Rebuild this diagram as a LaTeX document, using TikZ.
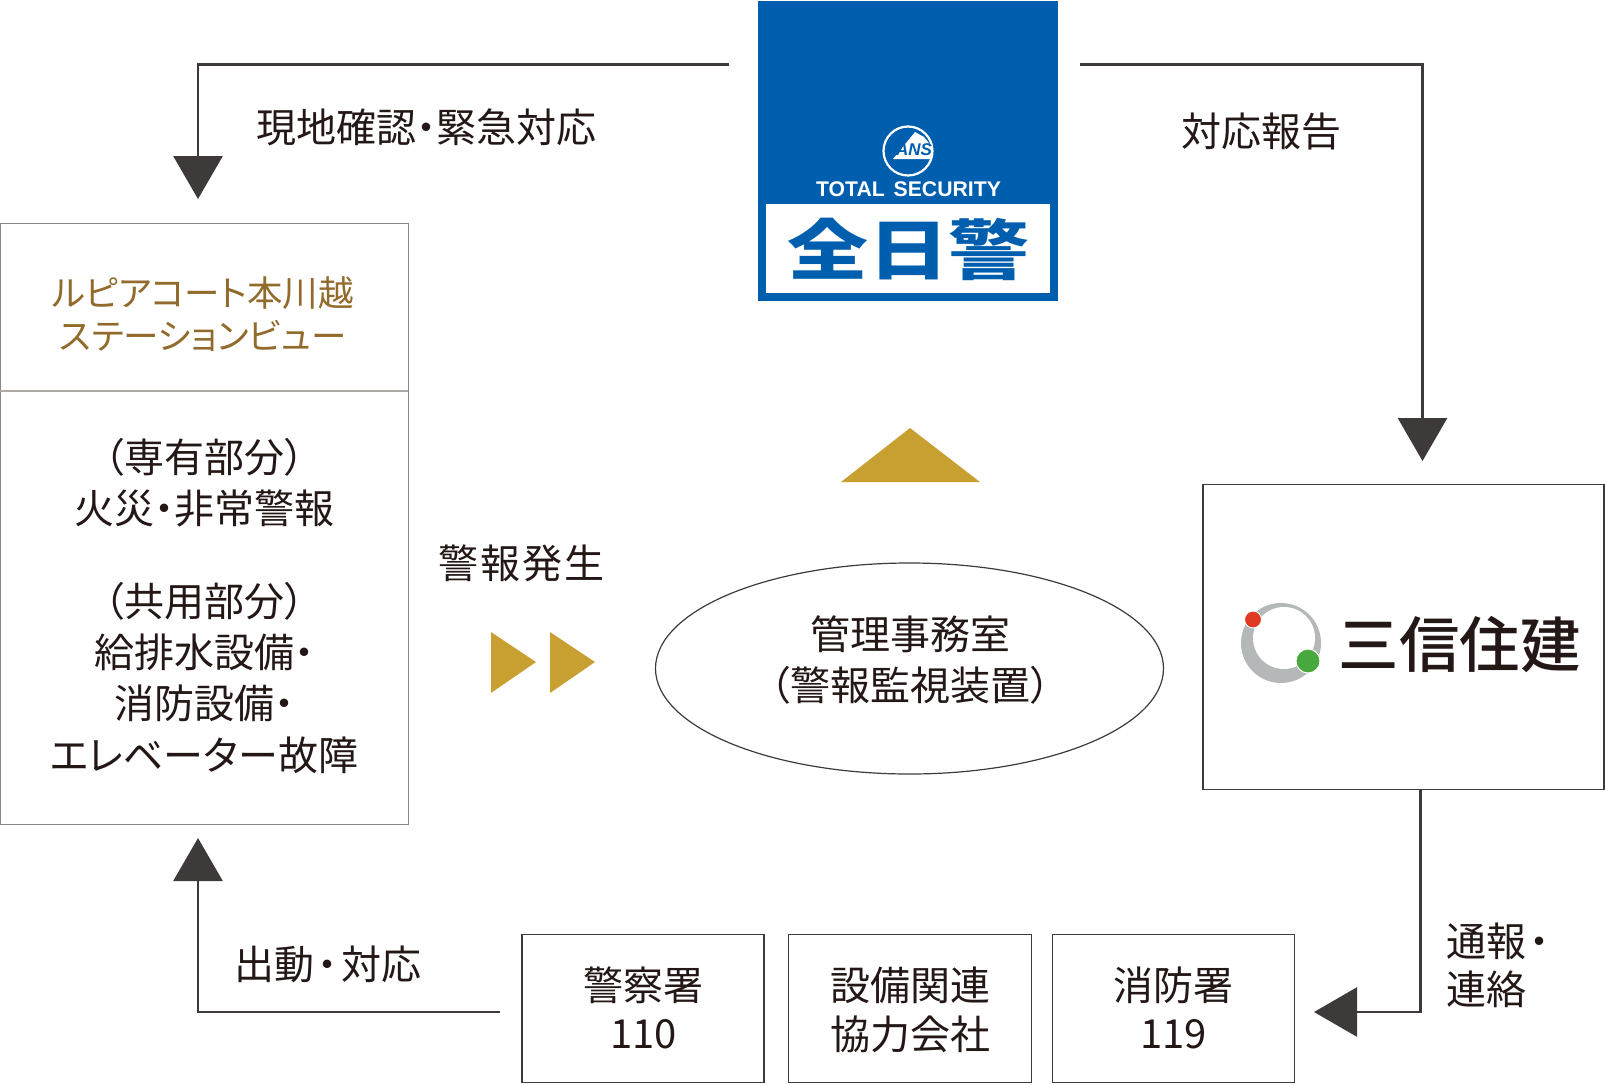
\documentclass[tikz,border=0pt]{standalone}
\usepackage{fontspec}
\usetikzlibrary{arrows.meta,shapes.geometric}
\setmainfont{Noto Sans CJK JP}[Scale=1]
\newfontfamily\jpm{Noto Sans CJK JP Medium}
\newfontfamily\jpb{Noto Sans CJK JP Black}
\newfontfamily\jpp{Noto Sans CJK JP}[RawFeature=+palt]
\newfontfamily\jpw{Noto Sans CJK JP}[RawFeature=+palt,LetterSpace=4.5]
\newfontfamily\lsans{Liberation Sans}
\definecolor{ink}{HTML}{3E3A39}
\definecolor{blk}{HTML}{231815}
\definecolor{gold}{HTML}{C8A032}
\definecolor{brn}{HTML}{916A2C}
\definecolor{ansblue}{HTML}{005EAE}
\definecolor{frame}{HTML}{8A8683}
\definecolor{logored}{HTML}{E03A23}
\definecolor{logogreen}{HTML}{46A83D}
\definecolor{logogray}{HTML}{B5B8B8}
\newcommand{\fs}[1]{\fontsize{#1}{#1}\selectfont}
\tikzset{
 x=1pt,y=-1pt,
 conn/.style={draw=ink,line width=2.8pt,-{Triangle[length=43pt,width=49pt]},fill=none},
 boxn/.style={draw=#1,line width=1.2pt,fill=white,inner sep=0pt,anchor=north west},
 boxn/.default=ink,
 lab/.style={inner sep=0pt,text=blk,align=center,font=\jpp\fs{40},anchor=center},
 labw/.style={lab,anchor=west},
 brnlab/.style={lab,text=brn,font=\jpp\fs{35.5}},
 tri/.style={fill=gold,draw=none},
}
\begin{document}
\begin{tikzpicture}
\useasboundingbox (0,0) rectangle (1605,1084);
% nodes
\node[boxn=frame,minimum width=408pt,minimum height=601pt] (house) at (-0.4,222.5) {};
\node[boxn=ink,minimum width=401pt,minimum height=305pt] (sanshin) at (1202.3,483.5) {};
\node[boxn=ink,minimum width=242pt,minimum height=148pt] (police) at (521.3,934) {};
\node[boxn=ink,minimum width=243pt,minimum height=148pt] (partner) at (787.6,934) {};
\node[boxn=ink,minimum width=242pt,minimum height=148pt] (fire) at (1051.5,934) {};
\node[ellipse,draw=ink,line width=1.2pt,minimum width=508pt,minimum height=211pt,inner sep=0pt] (center) at (909.5,668.5) {};
\draw[frame!70,line width=1.2pt] (0,391) -- (408,391);
% blue logo
\node[fill=ansblue,minimum width=300pt,minimum height=300pt,inner sep=0pt,anchor=north west] (zen) at (758,1) {};
\node[fill=white,minimum width=284pt,minimum height=89pt,inner sep=0pt,anchor=north west] (zenw) at (766,204) {};
\draw[white,line width=2.2pt] (908,151) circle (24.5);
\fill[white] (893,159) -- (915,132) -- (924,137) -- (932,147) -- (932,159) -- cycle;
\node[inner sep=0pt,text=ansblue] (ans) at (914,150) {\lsans\bfseries\itshape\fs{17}ANS};
\node[inner sep=0pt,text=white] (ts) at (908.5,189) {\lsans\bfseries\fs{21.2}TOTAL\kern3pt\ SECURITY};
\node[inner sep=0pt,text=ansblue] (zname) at (908.5,249) {\scalebox{1.035}[.84]{\jpb\fs{78}全日警}};
% sanshin logo
\fill[logogray] (1281,643) circle (40);
\fill[white] (1284,638) circle (31);
\fill[fill=logored,draw=white,line width=1pt] (1253,619.5) circle (8.5);
\fill[fill=logogreen,draw=white,line width=1pt] (1308,661) circle (12);
\node[inner sep=0pt,text=blk] (sname) at (1459.5,645) {\jpm\fs{60.5}三信住建};
% triangles
\fill[tri] (841,482) -- (910,428) -- (980,482) -- cycle;
\fill[tri] (491,632) -- (536,662) -- (491,693) -- cycle;
\fill[tri] (550,632) -- (595,662) -- (550,693) -- cycle;
% connectors
\coordinate (a1) at (729,64.5);
\coordinate (a2) at (198,64.5);
\coordinate (a3) at (198,199);
\draw[conn] (a1) -- (a2) -- (a3);
\coordinate (b1) at (1080,64.5);
\coordinate (b2) at (1422.5,64.5);
\coordinate (b3) at (1422.5,461);
\draw[conn] (b1) -- (b2) -- (b3);
\coordinate (c1) at (1420.5,789);
\coordinate (c2) at (1420.5,1012);
\coordinate (c3) at (1314,1012);
\draw[conn] (c1) -- (c2) -- (c3);
\coordinate (d1) at (500,1012);
\coordinate (d2) at (198,1012);
\coordinate (d3) at (198,838);
\draw[conn] (d1) -- (d2) -- (d3);
% labels
\node[lab] (l1) at (426,127) {現地確認・緊急対応};
\node[lab] (l2) at (1261,131.5) {対応報告};
\node[brnlab] (l3) at (203,293) {ルピアコート本川越};
\node[brnlab] (l4) at (203,336) {ステーションビュー};
\node[lab] (l5) at (204.5,457) {（専有部分）};
\node[lab] (l6) at (204,508) {火災・非常警報};
\node[lab] (l7) at (204.5,601) {（共用部分）};
\node[lab] (l8) at (204,652) {給排水設備・};
\node[lab] (l9) at (204,703) {消防設備・};
\node[lab] (l10) at (204,755) {エレベーター故障};
\node[lab,font=\jpw\fs{40}] (l11) at (521.5,563) {警報発生};
\node[lab] (l12) at (910,634) {管理事務室};
\node[lab] (l13) at (910.5,685) {（警報監視装置）};
\node[lab] (l14) at (327.5,964) {出動\kern3pt・\kern4pt対応};
\node[labw] (l15) at (1446.5,941) {通報\kern3pt・};
\node[labw] (l16) at (1446.5,989) {連絡};
\node[lab] (l17) at (643,985.5) {警察署};
\node[lab] (l18) at (643.5,1034) {110};
\node[lab] (l19) at (910.5,985.5) {設備関連};
\node[lab] (l20) at (910.5,1034) {協力会社};
\node[lab] (l21) at (1173,985.5) {消防署};
\node[lab] (l22) at (1173.5,1034) {119};
\end{tikzpicture}
\end{document}
